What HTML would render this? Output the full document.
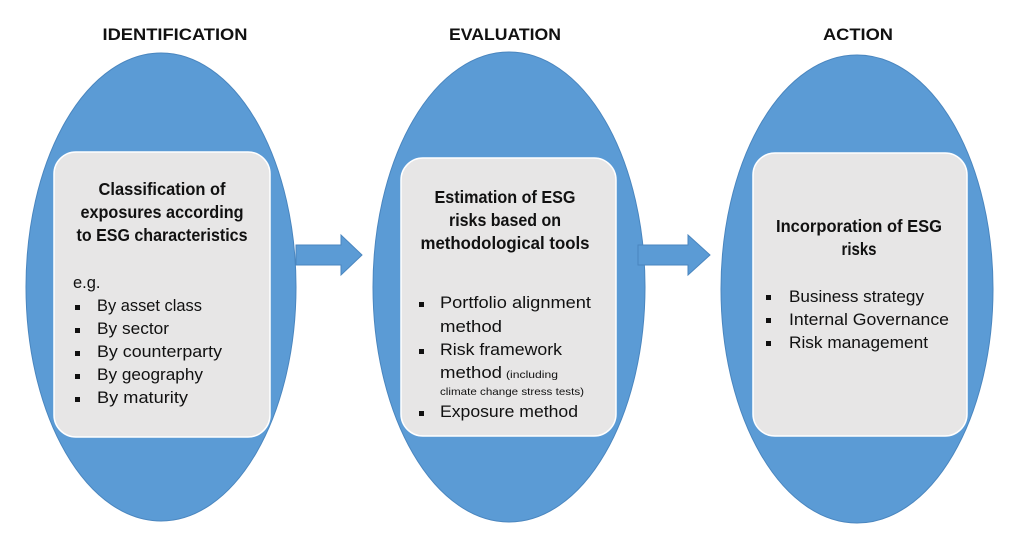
<!DOCTYPE html>
<html><head><meta charset="utf-8"><style>
html,body{margin:0;padding:0;background:#fff;}
svg{display:block;}
text{font-family:"Liberation Sans",sans-serif;fill:#111;}
.t{font-weight:bold;font-size:17px;}
.h{font-weight:bold;font-size:17.5px;}
.b{font-size:16.5px;}
</style></head><body>
<svg width="1024" height="542" viewBox="0 0 1024 542" xmlns="http://www.w3.org/2000/svg">
<text class="t" x="175" y="40" text-anchor="middle" textLength="145" lengthAdjust="spacingAndGlyphs">IDENTIFICATION</text>
<text class="t" x="505" y="40" text-anchor="middle" textLength="112" lengthAdjust="spacingAndGlyphs">EVALUATION</text>
<text class="t" x="858" y="40" text-anchor="middle" textLength="70" lengthAdjust="spacingAndGlyphs">ACTION</text>

<g fill="#5b9bd5" stroke="#4a86bf" stroke-width="1">
<ellipse cx="161" cy="287" rx="135" ry="234"/>
<ellipse cx="509" cy="287" rx="136" ry="235"/>
<ellipse cx="857" cy="289" rx="136" ry="234"/>
<polygon points="296,245 341,245 341,235 362,255 341,275 341,265 296,265"/>
<polygon points="638,245 688,245 688,235 710,255 688,275 688,265 638,265"/>
</g>
<g fill="#e7e6e6" stroke="#ffffff" stroke-width="1.5">
<rect x="54" y="152" width="216" height="285" rx="22"/>
<rect x="401" y="158" width="215" height="278" rx="22"/>
<rect x="753" y="153" width="214" height="283" rx="22"/>
</g>

<text class="h" x="162" y="195" text-anchor="middle" textLength="127" lengthAdjust="spacingAndGlyphs">Classification of</text>
<text class="h" x="162" y="218" text-anchor="middle" textLength="163" lengthAdjust="spacingAndGlyphs">exposures according</text>
<text class="h" x="162" y="241" text-anchor="middle" textLength="171" lengthAdjust="spacingAndGlyphs">to ESG characteristics</text>
<text class="b" x="73" y="288">e.g.</text>
<g fill="#111"><rect x="75" y="305" width="5" height="5"/><rect x="75" y="328" width="5" height="5"/><rect x="75" y="351" width="5" height="5"/><rect x="75" y="374" width="5" height="5"/><rect x="75" y="397" width="5" height="5"/></g>
<text class="b" x="97" y="311" textLength="105" lengthAdjust="spacingAndGlyphs">By asset class</text>
<text class="b" x="97" y="334" textLength="72" lengthAdjust="spacingAndGlyphs">By sector</text>
<text class="b" x="97" y="357" textLength="125" lengthAdjust="spacingAndGlyphs">By counterparty</text>
<text class="b" x="97" y="380" textLength="106" lengthAdjust="spacingAndGlyphs">By geography</text>
<text class="b" x="97" y="403" textLength="91" lengthAdjust="spacingAndGlyphs">By maturity</text>

<text class="h" x="505" y="203" text-anchor="middle" textLength="141" lengthAdjust="spacingAndGlyphs">Estimation of ESG</text>
<text class="h" x="505" y="226" text-anchor="middle" textLength="112" lengthAdjust="spacingAndGlyphs">risks based on</text>
<text class="h" x="505" y="249" text-anchor="middle" textLength="169" lengthAdjust="spacingAndGlyphs">methodological tools</text>
<g fill="#111"><rect x="419" y="302" width="5" height="5"/><rect x="419" y="349" width="5" height="5"/><rect x="419" y="411" width="5" height="5"/></g>
<text class="b" x="440" y="308" textLength="151" lengthAdjust="spacingAndGlyphs">Portfolio alignment</text>
<text class="b" x="440" y="332" textLength="62" lengthAdjust="spacingAndGlyphs">method</text>
<text class="b" x="440" y="355" textLength="122" lengthAdjust="spacingAndGlyphs">Risk framework</text>
<text class="b" x="440" y="378" textLength="62" lengthAdjust="spacingAndGlyphs">method</text>
<text x="506" y="378" font-size="10.5" textLength="52" lengthAdjust="spacingAndGlyphs">(including</text>
<text x="440" y="395" font-size="10.5" textLength="144" lengthAdjust="spacingAndGlyphs">climate change stress tests)</text>
<text class="b" x="440" y="417" textLength="138" lengthAdjust="spacingAndGlyphs">Exposure method</text>

<text class="h" x="859" y="232" text-anchor="middle" textLength="166" lengthAdjust="spacingAndGlyphs">Incorporation of ESG</text>
<text class="h" x="859" y="255" text-anchor="middle" textLength="35" lengthAdjust="spacingAndGlyphs">risks</text>
<g fill="#111"><rect x="766" y="295" width="5" height="5"/><rect x="766" y="318" width="5" height="5"/><rect x="766" y="341" width="5" height="5"/></g>
<text class="b" x="789" y="302" textLength="135" lengthAdjust="spacingAndGlyphs">Business strategy</text>
<text class="b" x="789" y="325" textLength="160" lengthAdjust="spacingAndGlyphs">Internal Governance</text>
<text class="b" x="789" y="348" textLength="139" lengthAdjust="spacingAndGlyphs">Risk management</text>
</svg>
</body></html>
